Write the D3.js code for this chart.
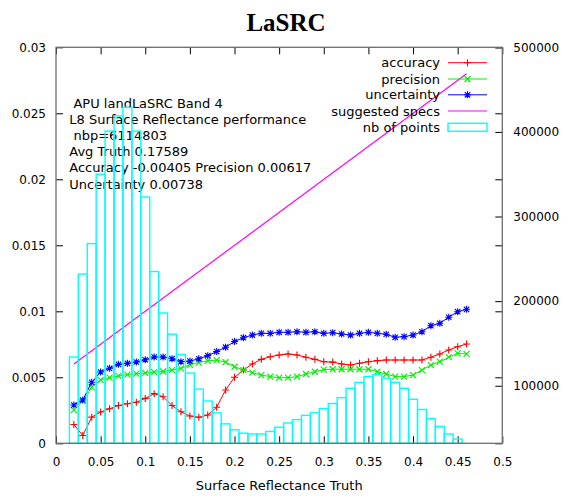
<!DOCTYPE html>
<html><head><meta charset="utf-8">
<script src="https://cdn.jsdelivr.net/npm/d3@7/dist/d3.min.js"></script>
<style>
body{margin:0;background:#fff}
svg{display:block}
text{font-family:"DejaVu Sans",sans-serif;font-size:13px;fill:#000}
</style>
</head><body>
<svg id="c" width="571" height="498"></svg>
<script>
// ---- data ----
const truth = [0.02,0.03,0.04,0.05,0.06,0.07,0.08,0.09,0.10,0.11,0.12,0.13,0.14,0.15,0.16,0.17,0.18,0.19,0.20,0.21,0.22,0.23,0.24,0.25,0.26,0.27,0.28,0.29,0.30,0.31,0.32,0.33,0.34,0.35,0.36,0.37,0.38,0.39,0.40,0.41,0.42,0.43,0.44,0.45,0.46];
const accuracy = [0.00142,0.00059,0.00198,0.00237,0.00262,0.00286,0.00300,0.00311,0.00340,0.00376,0.00353,0.00286,0.00239,0.00207,0.00197,0.00214,0.00273,0.00404,0.00500,0.00555,0.00601,0.00636,0.00656,0.00669,0.00677,0.00669,0.00652,0.00636,0.00618,0.00615,0.00601,0.00593,0.00606,0.00618,0.00626,0.00631,0.00631,0.00631,0.00631,0.00631,0.00652,0.00677,0.00707,0.00732,0.00752];
const precision = [0.00252,0.00320,0.00423,0.00480,0.00498,0.00510,0.00521,0.00527,0.00533,0.00539,0.00544,0.00555,0.00567,0.00595,0.00612,0.00625,0.00630,0.00614,0.00580,0.00555,0.00535,0.00517,0.00505,0.00497,0.00497,0.00505,0.00525,0.00542,0.00558,0.00561,0.00561,0.00561,0.00561,0.00561,0.00542,0.00525,0.00505,0.00505,0.00517,0.00555,0.00593,0.00618,0.00652,0.00682,0.00677];
const uncertainty = [0.00290,0.00328,0.00462,0.00540,0.00568,0.00598,0.00606,0.00616,0.00633,0.00654,0.00654,0.00641,0.00618,0.00623,0.00640,0.00664,0.00695,0.00728,0.00771,0.00800,0.00820,0.00833,0.00833,0.00841,0.00841,0.00845,0.00841,0.00845,0.00833,0.00838,0.00828,0.00820,0.00833,0.00841,0.00833,0.00826,0.00803,0.00808,0.00820,0.00845,0.00891,0.00909,0.00955,0.00997,0.01015];
const specX = [0.02,0.46];
const specY = [0.006,0.028];
const binCenters = [0.02,0.03,0.04,0.05,0.06,0.07,0.08,0.09,0.10,0.11,0.12,0.13,0.14,0.15,0.16,0.17,0.18,0.19,0.20,0.21,0.22,0.23,0.24,0.25,0.26,0.27,0.28,0.29,0.30,0.31,0.32,0.33,0.34,0.35,0.36,0.37,0.38,0.39,0.40,0.41,0.42,0.43,0.44,0.45];
const nbPoints = [134000,232000,268000,350000,401000,419000,429000,401000,323000,235000,186000,161000,137000,115000,96000,82000,68000,55000,48000,44000,43000,43000,46000,51000,56000,60000,65000,68000,73000,79000,86000,97000,104000,111000,113000,109000,104000,97000,84000,72000,61000,52000,43000,37000];
const xTicks = [0,0.05,0.1,0.15,0.2,0.25,0.3,0.35,0.4,0.45,0.5];
const yTicks = [0,0.005,0.01,0.015,0.02,0.025,0.03];
const y2Ticks = [100000,200000,300000,400000,500000];
const infoLines = [" APU landLaSRC Band 4","L8 Surface Reflectance performance"," nbp=6114803","Avg Truth 0.17589","Accuracy -0.00405 Precision 0.00617","Uncertainty 0.00738"];
const legendLabels = ["accuracy","precision","uncertainty","suggested specs","nb of points"];

// ---- layout ----
const L=56, R=502.3, T=47.3, B=443.3;
const svg = d3.select("#c");
const x = d3.scaleLinear().domain([0,0.5]).range([L,R]);
const y = d3.scaleLinear().domain([0,0.03]).range([B,T]);
const y2 = d3.scaleLinear().domain([32000,500000]).range([B,T]);
const binW = 0.01;

const fmt = d => d===0 ? "0" : String(+d.toFixed(4));

// title
svg.append("text").attr("x",286).attr("y",31).attr("text-anchor","middle")
  .style("font-family","'Liberation Serif','Times New Roman',serif").style("font-weight","bold").style("font-size","25px")
  .text("LaSRC");

// axes
function styleAxis(g){ g.select(".domain").remove(); g.selectAll(".tick line").attr("stroke","#000"); g.selectAll("text").style("font-size","12px").style("font-family","'DejaVu Sans',sans-serif").attr("fill","#000"); }
svg.append("g").attr("transform",`translate(0,${B})`).call(d3.axisBottom(x).tickValues(xTicks).tickFormat(fmt).tickSize(-7).tickPadding(14.5)).call(styleAxis);
svg.append("g").attr("transform",`translate(0,${T})`).call(d3.axisTop(x).tickValues(xTicks).tickFormat("").tickSize(-7)).call(styleAxis);
svg.append("g").attr("transform",`translate(${L},0)`).call(d3.axisLeft(y).tickValues(yTicks).tickFormat(fmt).tickSize(-7).tickPadding(10)).call(styleAxis);
svg.append("g").attr("transform",`translate(${R},0)`).call(d3.axisRight(y).tickValues(yTicks).tickFormat("").tickSize(-7)).call(styleAxis);
svg.append("g").attr("transform",`translate(${R},0)`).call(d3.axisRight(y2).tickValues(y2Ticks).tickFormat(d3.format("d")).tickSize(-7).tickPadding(11)).call(styleAxis);

// x axis title
svg.append("text").attr("x",(L+R)/2).attr("y",490).attr("text-anchor","middle").text("Surface Reflectance Truth");

// info text
const info = svg.append("text").attr("xml:space","preserve").style("white-space","pre");
infoLines.forEach((s,i)=>{
  info.append("tspan").attr("x",69.3).attr("y",108+i*16.1).text(s);
});

const plot = svg.append("g");
const line = (xs, ys) => d3.line().x((d,i)=>x(xs[i])).y((d,i)=>y(ys[i]))(ys);

const mk = {
  plus: "M-3.5,0H3.5M0,-3.5V3.5",
  cross: "M-3,-3L3,3M-3,3L3,-3",
  star: "M-3.5,0H3.5M0,-3.5V3.5M-2.7,-2.7L2.7,2.7M-2.7,2.7L2.7,-2.7"
};
const series = [
  {vals:accuracy, color:"#ff0000", m:mk.plus},
  {vals:precision, color:"#00ee00", m:mk.cross},
  {vals:uncertainty, color:"#0000ff", m:mk.star}
];
series.forEach(s=>{
  plot.append("path").attr("d",line(truth,s.vals)).attr("fill","none").attr("stroke",s.color).attr("stroke-width",1);
  plot.selectAll(null).data(s.vals).enter().append("path")
    .attr("transform",(d,i)=>`translate(${x(truth[i])},${y(d)})`)
    .attr("d",s.m).attr("stroke",s.color).attr("stroke-width",1.1).attr("fill","none");
});
plot.append("path").attr("d",line(specX,specY)).attr("fill","none").attr("stroke","#ff00ff").attr("stroke-width",1.2);

// bars (count axis)
plot.selectAll(null).data(nbPoints).enter().append("rect")
  .attr("x",(d,i)=>x(binCenters[i]-binW/2))
  .attr("width",(d,i)=>x(binCenters[i]+binW/2)-x(binCenters[i]-binW/2))
  .attr("y",d=>y2(d)).attr("height",d=>B-y2(d))
  .attr("fill","none").attr("stroke","#00ffff").attr("stroke-width",1.4);

// border
svg.append("rect").attr("x",L).attr("y",T).attr("width",R-L).attr("height",B-T)
  .attr("fill","none").attr("stroke","#6e6e6e").attr("stroke-width",1.3);

// legend
const lg = svg.append("g");
const rowsY = [62.7,79,94.8,111,127.3];
legendLabels.forEach((lab,i)=>{
  lg.append("text").attr("x",440).attr("y",rowsY[i]).attr("dy","0.35em").attr("text-anchor","end").text(lab);
});
[0,1,2].forEach(i=>{
  lg.append("line").attr("x1",448).attr("x2",487).attr("y1",rowsY[i]).attr("y2",rowsY[i]).attr("stroke",series[i].color).attr("stroke-width",1);
  lg.append("path").attr("transform",`translate(467.5,${rowsY[i]})`).attr("d",series[i].m).attr("stroke",series[i].color).attr("stroke-width",1.1).attr("fill","none");
});
lg.append("line").attr("x1",448).attr("x2",487).attr("y1",rowsY[3]).attr("y2",rowsY[3]).attr("stroke","#ff00ff").attr("stroke-width",1.2);
lg.append("rect").attr("x",448).attr("y",rowsY[4]-4).attr("width",39).attr("height",8).attr("fill","none").attr("stroke","#00ffff").attr("stroke-width",1.4);
</script>
</body></html>
